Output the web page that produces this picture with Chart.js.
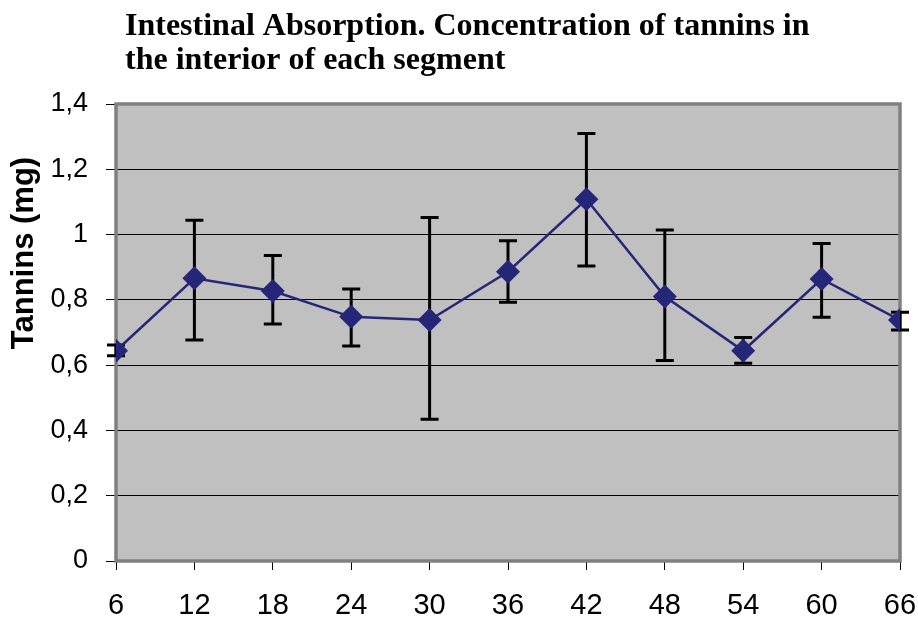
<!DOCTYPE html>
<html>
<head>
<meta charset="utf-8">
<script src="https://cdn.jsdelivr.net/npm/chart.js@4.4.0/dist/chart.umd.min.js"></script>
<style>
  html, body { margin: 0; padding: 0; background: #fff; }
  #wrap { width: 918px; height: 622px; }
</style>
</head>
<body>
<div id="wrap"><canvas id="chart"></canvas></div>
<script>
var segments = [6, 12, 18, 24, 30, 36, 42, 48, 54, 60, 66];
var tannins = [0.644, 0.866, 0.827, 0.748, 0.738, 0.886, 1.108, 0.810, 0.644, 0.864, 0.738];
var errHigh = [0.662, 1.044, 0.936, 0.833, 1.052, 0.981, 1.310, 1.014, 0.685, 0.973, 0.762];
var errLow = [0.629, 0.677, 0.726, 0.659, 0.434, 0.793, 0.904, 0.614, 0.606, 0.747, 0.708];
var yTickLabels = ['0', '0,2', '0,4', '0,6', '0,8', '1', '1,2', '1,4'];
var titleLines = ['Intestinal Absorption. Concentration of tannins in', 'the interior of each segment'];
var yTitle = 'Tannins (mg)';

// grey plot area + frame, error bars under the markers
var plotDeco = {
    id: 'plotDeco',
    beforeDraw: function (chart) {
        var a = chart.chartArea, ctx = chart.ctx;
        ctx.save();
        ctx.fillStyle = '#C0C0C0';
        ctx.fillRect(a.left, a.top, a.right - a.left, a.bottom - a.top);
        ctx.restore();
    },
    beforeDatasetsDraw: function (chart) {
        var a = chart.chartArea, ctx = chart.ctx;
        var x = chart.scales.x, y = chart.scales.y;
        ctx.save();
        ctx.strokeStyle = '#808080';
        ctx.lineWidth = 3.5;
        ctx.strokeRect(a.left, a.top, a.right - a.left, a.bottom - a.top);
        ctx.strokeStyle = '#000';
        ctx.lineWidth = 3;
        for (var i = 0; i < segments.length; i++) {
            var px = x.getPixelForValue(segments[i]);
            var top = y.getPixelForValue(errHigh[i]);
            var bot = y.getPixelForValue(errLow[i]);
            ctx.beginPath();
            ctx.moveTo(px, top); ctx.lineTo(px, bot);
            ctx.moveTo(px - 9, top); ctx.lineTo(px + 9, top);
            ctx.moveTo(px - 9, bot); ctx.lineTo(px + 9, bot);
            ctx.stroke();
        }
        ctx.restore();
    },
    afterDraw: function (chart) {
        var ctx = chart.ctx;
        ctx.save();
        ctx.fillStyle = '#000';
        ctx.font = 'bold 32px "Liberation Serif", "Times New Roman", serif';
        ctx.textAlign = 'left';
        ctx.textBaseline = 'alphabetic';
        ctx.fillText(titleLines[0], 125, 35);
        ctx.fillText(titleLines[1], 125, 69);
        ctx.translate(24, 253);
        ctx.rotate(-Math.PI / 2);
        ctx.font = 'bold 31px "Liberation Sans", Arial, sans-serif';
        ctx.textAlign = 'center';
        ctx.textBaseline = 'middle';
        ctx.fillText(yTitle, 0, 0);
        ctx.restore();
    }
};

var chart = new Chart(document.getElementById('chart'), {
    type: 'line',
    data: {
        datasets: [{
            data: segments.map(function (s, i) { return { x: s, y: tannins[i] }; }),
            borderColor: '#262678',
            backgroundColor: '#262678',
            borderWidth: 2.5,
            pointStyle: 'rectRot',
            pointRadius: 12,
            pointHoverRadius: 12,
            pointBorderWidth: 0,
            tension: 0,
            fill: false
        }]
    },
    options: {
        responsive: true,
        maintainAspectRatio: false,
        animation: false,
        layout: { padding: { top: 104, right: 18, left: 0, bottom: 0 } },
        plugins: {
            legend: { display: false },
            tooltip: { enabled: false },
            title: { display: false }
        },
        scales: {
            x: {
                type: 'linear',
                min: 6,
                max: 66,
                afterFit: function (s) { s.height = 61; s.paddingLeft = 0; s.paddingRight = 0; },
                ticks: {
                    stepSize: 6,
                    color: '#000',
                    padding: 19,
                    maxRotation: 0,
                    font: { family: '"Liberation Sans", Arial, sans-serif', size: 29 }
                },
                grid: { drawOnChartArea: false, drawTicks: true, tickLength: 9, color: '#000', lineWidth: 1 },
                border: { display: false }
            },
            y: {
                min: 0,
                max: 1.4,
                afterFit: function (s) { s.width = 116; s.paddingTop = 0; s.paddingBottom = 0; },
                ticks: {
                    stepSize: 0.2,
                    color: '#000',
                    padding: 18,
                    font: { family: '"Liberation Sans", Arial, sans-serif', size: 27 },
                    callback: function (v, i) { return yTickLabels[i]; }
                },
                grid: { color: '#000', lineWidth: 1, tickLength: 10 },
                border: { display: false }
            }
        }
    },
    plugins: [plotDeco]
});
</script>
</body>
</html>
